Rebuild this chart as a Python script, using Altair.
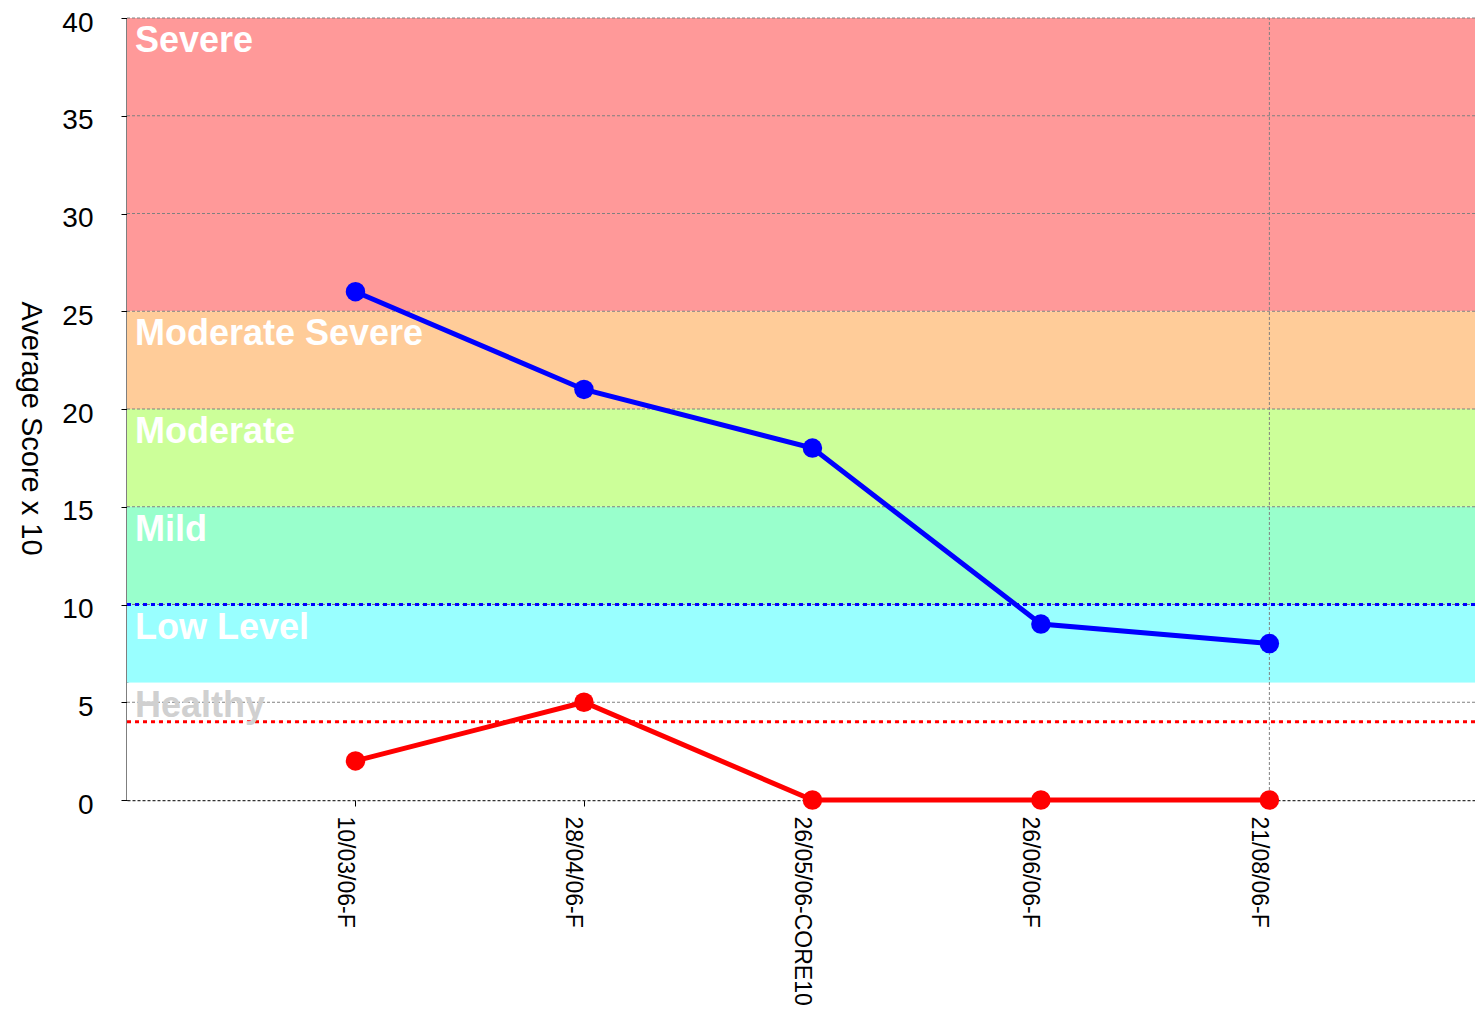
import altair as alt
import pandas as pd

categories = ["10/03/06-F", "28/04/06-F", "26/05/06-CORE10", "26/06/06-F", "21/08/06-F"]
blue_values = [26, 21, 18, 9, 8]
red_values = [2, 5, 0, 0, 0]

band_names = ["Severe", "Moderate Severe", "Moderate", "Mild", "Low Level", "Healthy"]
band_low = [25, 20, 15, 10, 6, 0]
band_high = [40, 25, 20, 15, 10, 6]
band_colors = ["#FF9999", "#FFCC99", "#CCFF99", "#99FFCC", "#99FFFF", "#FFFFFF"]
label_colors = ["#FFFFFF", "#FFFFFF", "#FFFFFF", "#FFFFFF", "#FFFFFF", "#D0D0D0"]

blue_threshold = 10
red_threshold = 4
y_ticks = [0, 5, 10, 15, 20, 25, 30, 35, 40]
grid_values = [5, 10, 15, 20, 25, 30, 35, 40]

W = 1348
H = 782
X_MAX = 5.9

idx = list(range(1, len(categories) + 1))
series = pd.DataFrame({
    "idx": idx * 2,
    "cat": categories * 2,
    "value": blue_values + red_values,
    "series": ["blue"] * len(idx) + ["red"] * len(idx),
})
bands = pd.DataFrame({
    "name": band_names, "low": band_low, "high": band_high,
    "color": band_colors, "lcolor": label_colors,
})
grid = pd.DataFrame({"y": grid_values})
thr = pd.DataFrame({"y": [blue_threshold, red_threshold], "c": ["#0000FF", "#FF0000"]})

label_js = "[" + ",".join("'" + c + "'" for c in categories) + "]"

xscale = alt.Scale(domain=[0, X_MAX], nice=False, zero=False)
yscale = alt.Scale(domain=[0, 40], nice=False)

xaxis = alt.Axis(
    values=idx, labelExpr=label_js + "[datum.value-1]", title=None, grid=False,
    labelAngle=90, labelAlign="left", labelBaseline="top", labelFontSize=23,
    labelColor="#000000", labelPadding=10, labelLimit=0, tickSize=6, tickColor="#000000",
    domainColor="#333333", domainDash=[3, 2], domainWidth=1.5,
)
yaxis = alt.Axis(
    values=y_ticks, title="Average Score x 10", grid=False, labelFontSize=28,
    labelColor="#000000", labelPadding=28, labelOffset=5, tickSize=6, tickColor="#000000",
    domainColor="#000000", domainWidth=2, titleAngle=90, titleFontSize=29,
    titleFontWeight="normal", titleColor="#000000", titleX=-97, titleY=410,
    titleAlign="center", titleBaseline="middle",
)

band_rects = alt.Chart(bands).mark_rect().encode(
    x=alt.value(0), x2=alt.value(W),
    y=alt.Y("low:Q", scale=yscale, axis=yaxis), y2="high:Q",
    color=alt.Color("color:N", scale=None),
)

grid_rules = alt.Chart(grid).mark_rule(color="#808080", strokeDash=[3, 2], strokeWidth=1).encode(
    y="y:Q", x=alt.value(0), x2=alt.value(W),
)

vrule = alt.Chart(pd.DataFrame({"x": [idx[-1]], "y0": [0], "y1": [40]})).mark_rule(
    color="#808080", strokeDash=[3, 2], strokeWidth=1
).encode(x=alt.X("x:Q", scale=xscale, axis=xaxis), y="y0:Q", y2="y1:Q")

thr_rules = alt.Chart(thr).mark_rule(strokeDash=[4, 4], strokeWidth=3).encode(
    y="y:Q", x=alt.value(0), x2=alt.value(W), color=alt.Color("c:N", scale=None),
)

lines = alt.Chart(series).mark_line(strokeWidth=5).encode(
    x=alt.X("idx:Q", scale=xscale, axis=xaxis),
    y=alt.Y("value:Q", scale=yscale),
    color=alt.Color("series:N", scale=alt.Scale(domain=["blue", "red"], range=["#0000FF", "#FF0000"]), legend=None),
    detail="series:N",
)
points = alt.Chart(series).mark_point(filled=True, opacity=1, size=380).encode(
    x=alt.X("idx:Q", scale=xscale),
    y=alt.Y("value:Q", scale=yscale),
    color=alt.Color("series:N", scale=alt.Scale(domain=["blue", "red"], range=["#0000FF", "#FF0000"]), legend=None),
)

band_labels = alt.Chart(bands).mark_text(
    align="left", baseline="alphabetic", dx=0, dy=34, fontSize=36, fontWeight="bold",
    font="Liberation Sans",
).encode(
    x=alt.value(8), y="high:Q", text="name:N", color=alt.Color("lcolor:N", scale=None),
)

chart = alt.layer(band_rects, grid_rules, vrule, thr_rules, lines, points, band_labels).properties(
    width=W, height=H, autosize="none",
    padding={"left": 119, "top": 10, "right": 0, "bottom": 208},
).configure(font="Liberation Sans").configure_view(stroke=None)

chart.save("out.html", embed_options={"renderer": "svg", "actions": False})
